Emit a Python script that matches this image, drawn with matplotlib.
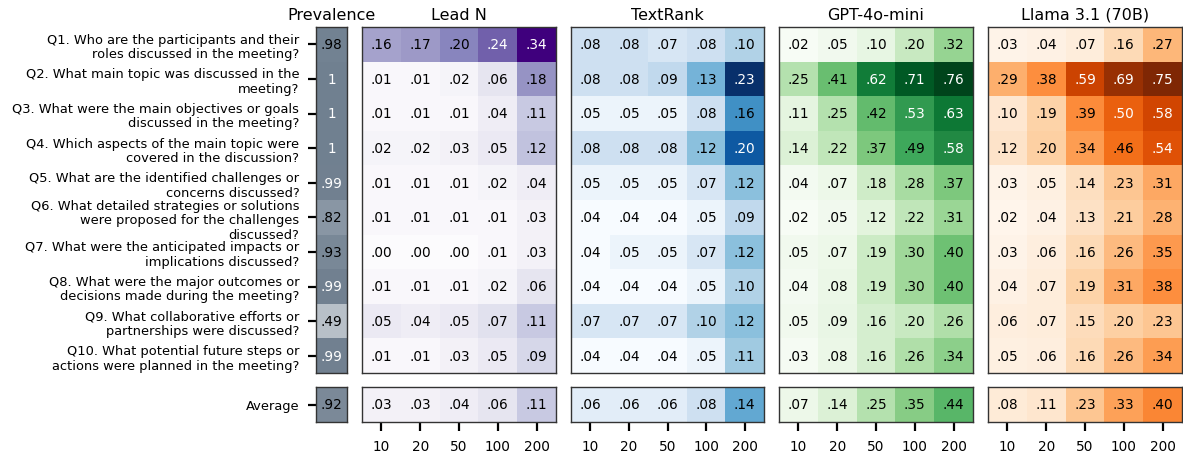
import numpy as np
import matplotlib
matplotlib.use("Agg")
import matplotlib.pyplot as plt
from matplotlib.colors import LinearSegmentedColormap, Normalize

questions = [
    "Q1. Who are the participants and their\nroles discussed in the meeting?",
    "Q2. What main topic was discussed in the\nmeeting?",
    "Q3. What were the main objectives or goals\ndiscussed in the meeting?",
    "Q4. Which aspects of the main topic were\ncovered in the discussion?",
    "Q5. What are the identified challenges or\nconcerns discussed?",
    "Q6. What detailed strategies or solutions\nwere proposed for the challenges\ndiscussed?",
    "Q7. What were the anticipated impacts or\nimplications discussed?",
    "Q8. What were the major outcomes or\ndecisions made during the meeting?",
    "Q9. What collaborative efforts or\npartnerships were discussed?",
    "Q10. What potential future steps or\nactions were planned in the meeting?",
]
avg_label = "Average"
budgets = ["10", "20", "50", "100", "200"]

prevalence = [.98, 1, 1, 1, .99, .82, .93, .99, .49, .99]
prevalence_avg = [.92]

lead_n = [
    [.16, .17, .20, .24, .34],
    [.01, .01, .02, .06, .18],
    [.01, .01, .01, .04, .11],
    [.02, .02, .03, .05, .12],
    [.01, .01, .01, .02, .04],
    [.01, .01, .01, .01, .03],
    [.00, .00, .00, .01, .03],
    [.01, .01, .01, .02, .06],
    [.05, .04, .05, .07, .11],
    [.01, .01, .03, .05, .09],
]
lead_n_avg = [.03, .03, .04, .06, .11]

textrank = [
    [.08, .08, .07, .08, .10],
    [.08, .08, .09, .13, .23],
    [.05, .05, .05, .08, .16],
    [.08, .08, .08, .12, .20],
    [.05, .05, .05, .07, .12],
    [.04, .04, .04, .05, .09],
    [.04, .05, .05, .07, .12],
    [.04, .04, .04, .05, .10],
    [.07, .07, .07, .10, .12],
    [.04, .04, .04, .05, .11],
]
textrank_avg = [.06, .06, .06, .08, .14]

gpt4o_mini = [
    [.02, .05, .10, .20, .32],
    [.25, .41, .62, .71, .76],
    [.11, .25, .42, .53, .63],
    [.14, .22, .37, .49, .58],
    [.04, .07, .18, .28, .37],
    [.02, .05, .12, .22, .31],
    [.05, .07, .19, .30, .40],
    [.04, .08, .19, .30, .40],
    [.05, .09, .16, .20, .26],
    [.03, .08, .16, .26, .34],
]
gpt4o_mini_avg = [.07, .14, .25, .35, .44]

llama = [
    [.03, .04, .07, .16, .27],
    [.29, .38, .59, .69, .75],
    [.10, .19, .39, .50, .58],
    [.12, .20, .34, .46, .54],
    [.03, .05, .14, .23, .31],
    [.02, .04, .13, .21, .28],
    [.03, .06, .16, .26, .35],
    [.04, .07, .19, .31, .38],
    [.06, .07, .15, .20, .23],
    [.05, .06, .16, .26, .34],
]
llama_avg = [.08, .11, .23, .33, .40]

W, H = 1183, 460
fig = plt.figure(figsize=(W / 100, H / 100), dpi=100)

def px_axes(x0, x1, y0, y1):
    return fig.add_axes([x0 / W, 1 - y1 / H, (x1 - x0) / W, (y1 - y0) / H])

main_top, main_bot = 28, 374
avg_top, avg_bot = 388, 423

slate = LinearSegmentedColormap.from_list("slate", ["#ffffff", "#708090"])

panels = [
    ("Prevalence", np.array(prevalence)[:, None], np.array(prevalence_avg)[None, :],
     slate, (316, 347), 0.0, 1.0, 0.985),
    ("Lead N", np.array(lead_n), np.array(lead_n_avg)[None, :],
     plt.get_cmap("Purples"), (362, 556), None, None, 0.65),
    ("TextRank", np.array(textrank), np.array(textrank_avg)[None, :],
     plt.get_cmap("Blues"), (571, 764), None, None, 0.65),
    ("GPT-4o-mini", np.array(gpt4o_mini), np.array(gpt4o_mini_avg)[None, :],
     plt.get_cmap("Greens"), (779, 973), None, None, 0.65),
    ("Llama 3.1 (70B)", np.array(llama), np.array(llama_avg)[None, :],
     plt.get_cmap("Oranges"), (988, 1182), None, None, 0.65),
]

def fmt(v):
    if abs(v - 1) < 1e-9:
        return "1"
    return f"{v:.2f}".lstrip("0")

spine_color = "#333333"

for pi, (title, main, avg, cmap, (x0, x1), vmin, vmax, thr) in enumerate(panels):
    allv = np.concatenate([main.ravel(), avg.ravel()])
    lo = allv.min() if vmin is None else vmin
    hi = allv.max() if vmax is None else vmax
    norm = Normalize(lo, hi)
    for data, (y0, y1), is_avg in [(main, (main_top, main_bot), False),
                                   (avg, (avg_top, avg_bot), True)]:
        ax = px_axes(x0, x1, y0, y1)
        ax.imshow(data, cmap=cmap, norm=norm, aspect="auto", interpolation="nearest")
        nr, nc = data.shape
        for i in range(nr):
            for j in range(nc):
                v = data[i, j]
                col = "white" if norm(v) > thr else "black"
                ax.text(j, i, fmt(v), ha="center", va="center", fontsize=9.8, color=col)
        for s in ax.spines.values():
            s.set_color(spine_color)
            s.set_linewidth(1.0)
        ax.set_xticks([])
        ax.set_yticks([])
        if is_avg and pi > 0:
            ax.set_xticks(range(nc))
            ax.set_xticklabels(budgets, fontsize=9.8)
            ax.tick_params(axis="x", length=6.5, width=1.6, pad=6)
        if pi == 0:
            ax.set_yticks(range(nr))
            ax.set_yticklabels([avg_label] if is_avg else questions, fontsize=9.4,
                               linespacing=1.15)
            ax.tick_params(axis="y", length=6, width=1.6, pad=6)
        if not is_avg:
            ax.set_title(title, fontsize=11.5, pad=6)

fig.savefig("out.png", dpi=100)
